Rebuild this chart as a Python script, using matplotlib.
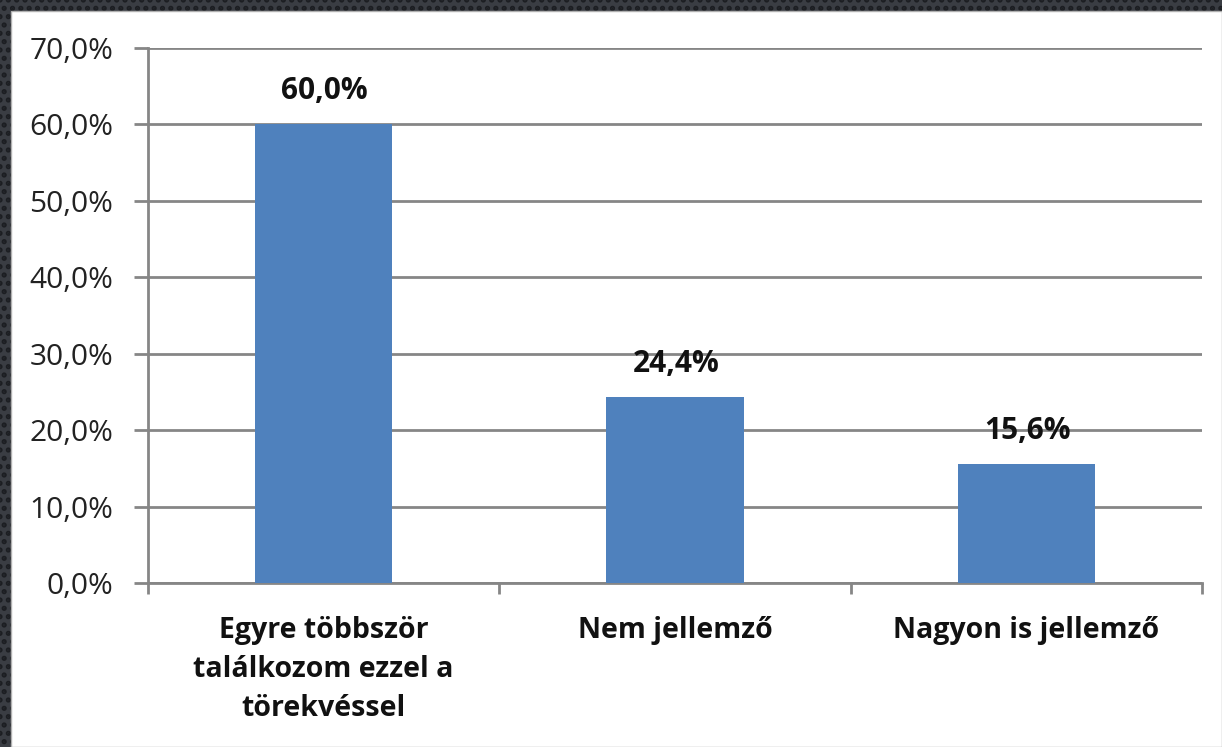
import matplotlib.pyplot as plt
from matplotlib.patches import Rectangle

plt.rcParams['font.family'] = ['Open Sans', 'DejaVu Sans']
plt.rcParams['hatch.linewidth'] = 2.5

categories = ["Egyre többször\ntalálkozom ezzel a\ntörekvéssel", "Nem jellemző", "Nagyon is jellemző"]
values = [60.0, 24.4, 15.6]
yticks = [0, 10, 20, 30, 40, 50, 60, 70]

grey = "#868686"
bar_color = "#4F81BD"

fig = plt.figure(figsize=(12.22, 7.47), dpi=100)
fig.patch.set_facecolor("#3a3d43")

# dotted dark frame
fig.patches.append(Rectangle((0, 0), 1, 1, transform=fig.transFigure,
                             facecolor="#3a3d43", edgecolor="#1c1e22",
                             hatch="..", linewidth=0, zorder=-20))
# white panel inside the dark frame
fig.patches.append(Rectangle((11 / 1222, 0), 1 - 11 / 1222, 1 - 11 / 747,
                             transform=fig.transFigure, facecolor="white",
                             edgecolor="#b0b0b0", linewidth=1, zorder=-10))

ax = fig.add_axes([148 / 1222, 164 / 747, 1054 / 1222, 535 / 747])
ax.set_facecolor("white")

x = list(range(len(categories)))
ax.bar(x, values, width=0.39, color=bar_color, zorder=3)

for xi, v in zip(x, values):
    ax.annotate(f"{v:.1f}%".replace(".", ","), (xi, v), xytext=(1, 33),
                textcoords="offset pixels", ha="center", va="center",
                fontsize=21.5, fontweight="bold", color="#111111", zorder=4)

ax.set_xlim(-0.5, len(categories) - 0.5)
ax.set_ylim(0, 70)
ax.set_yticks(yticks)
ax.set_yticklabels([f"{t:.1f}%".replace(".", ",") for t in yticks],
                   fontsize=21.5, color="#222222")
ax.yaxis.grid(True, color=grey, linewidth=2, zorder=1)
ax.set_axisbelow(True)

ax.set_xticks(x)
ax.set_xticklabels(categories, fontsize=20.5, fontweight="bold", color="#111111",
                   linespacing=1.45)
ax.tick_params(axis="x", which="major", length=0, pad=24)
ax.set_xticks([-0.5, 0.5, 1.5, 2.5], minor=True)
ax.tick_params(axis="x", which="minor", length=8, width=2, color=grey)
ax.tick_params(axis="y", length=10, width=2, color=grey, pad=15)

for s in ["top", "right"]:
    ax.spines[s].set_visible(False)
for s in ["left", "bottom"]:
    ax.spines[s].set_color(grey)
    ax.spines[s].set_linewidth(2)

fig.savefig("out.png", dpi=100, facecolor=fig.get_facecolor())
